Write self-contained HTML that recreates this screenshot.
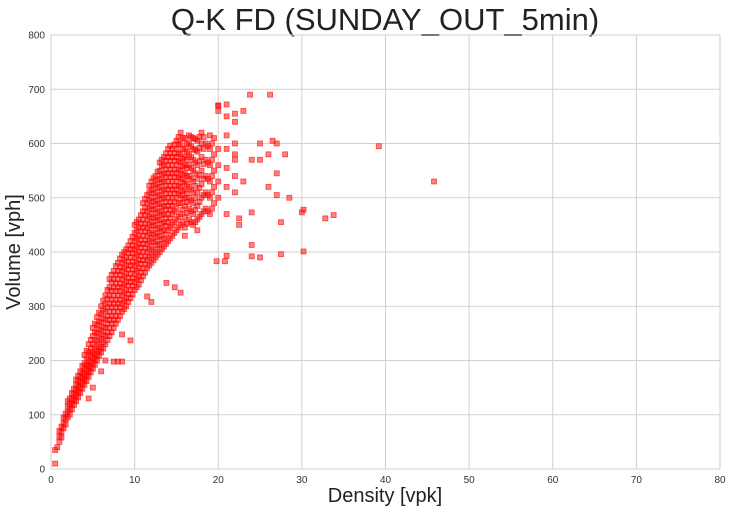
<!DOCTYPE html>
<html><head><meta charset="utf-8"><style>
html,body{margin:0;padding:0;background:#fff;}
svg{display:block;font-family:"Liberation Sans",sans-serif;}
</style></head><body>
<svg id="chart" width="733" height="512">
<text x="385" y="30" text-anchor="middle" font-size="31" fill="#222">Q-K FD (SUNDAY_OUT_5min)</text>
<text x="385" y="502" text-anchor="middle" font-size="20" fill="#222">Density [vpk]</text>
<text x="0" y="0" transform="translate(20,252) rotate(-90)" text-anchor="middle" font-size="20" fill="#222">Volume [vph]</text>
</svg>
<script>
const xTicks=[0,10,20,30,40,50,60,70,80];
const yTicks=[0,100,200,300,400,500,600,700,800];
const columnDensity=[0.5,1,1.5,2,2.5,3,3.5,4,4.5,5,5.5,6,6.5,7,7.5,8,8.5,9,9.5,10,10.5,11,11.5,12,12.5,13,13.5,14,14.5,15,15.5,16,16.5,17,17.5,18,18.5,19,19.5,20,21,22];
const columnVolumes=[
[10,35],[50,60,70],[75,85,95],[95,105,115,125],[110,120,130,140],[125,135,145,155,165],
[140,150,160,170,180],[155,165,175,185,195,210],[170,180,190,200,215,230],[185,195,205,215,230,245,260],
[200,210,220,235,250,265,280],[215,225,240,255,270,285,300],[230,245,260,275,290,305,320],
[245,260,275,290,305,320,335,350],[260,275,290,305,320,335,350,365],[275,290,305,320,335,350,365,380],
[290,305,320,335,350,365,380,395],[300,315,330,345,360,375,390,405],[315,330,345,360,375,390,405,420],
[330,345,360,375,390,405,420,435,450],[340,355,370,385,400,415,430,445,460],
[355,370,385,400,415,430,445,460,475,490],[370,385,400,415,430,445,460,475,490,505],
[380,395,410,425,440,455,470,485,500,515,530],[390,405,420,435,450,465,480,495,510,525,540],
[400,415,430,445,460,475,490,505,520,535,550,565],[410,425,440,455,470,485,500,515,530,545,560,575],
[420,440,455,470,485,500,515,530,545,560,575,590],[430,450,470,485,500,515,530,545,560,575,590],
[440,460,480,500,515,530,545,560,575,590,605],[450,470,490,505,520,535,550,565,580,600,620],
[445,465,485,500,515,530,545,560,575,590,610],[460,480,500,520,540,560,580,600,615],
[450,470,490,510,530,550,570,590,610],[460,485,510,535,560,585,605],[470,500,525,550,575,600,620],
[480,510,540,570,600],[470,500,530,560,590,615],[490,520,550,580,610],[500,530,560,590,660,670],
[520,555,590,615,650],[540,570,600,640,580]];
const midDensity=[0.75,1.25,1.75,2.25,2.75,3.25,3.75,4.25,4.75,5.25,5.75,6.25,6.75,7.25,7.75,8.25,8.75,9.25,9.75,10.25,10.75,11.25,11.75,12.25,12.75,13.25,13.75,14.25,14.75,15.25,15.75,16.25,16.75,17.25,17.75,18.25,18.75,19.25];
const midVolumes=[
[40],[58,68,78],[82,92,102],[100,110,120,130],[118,128,138,148],[132,142,152,162,172],
[148,158,168,178,190],[162,172,182,192,204,218],[178,188,198,210,222,238],[192,202,212,224,238,252,268],
[208,218,230,244,258,272,288],[222,234,248,262,278,294,310],[238,252,268,282,298,314,330],
[252,268,282,298,312,328,344,358],[268,282,298,312,328,342,358,374],[282,298,312,328,342,358,372,388],
[295,310,325,340,355,370,385,400],[308,322,338,352,368,382,398,412],[322,338,352,368,382,398,412,428],
[335,350,365,380,395,410,425,440,455],[348,362,378,392,408,422,438,452,468],
[362,378,392,408,422,438,452,468,482,498],[375,390,405,420,435,450,465,480,495,510,522],
[385,400,418,432,448,462,478,492,508,522,536],[395,412,428,442,458,472,488,502,518,532,548],
[405,422,438,452,468,482,498,512,528,542,558,570],[415,432,448,462,478,492,508,522,538,552,568,582],
[425,445,462,478,492,508,522,538,552,568,582,596],[435,455,475,492,508,522,538,552,568,582,598],
[445,465,490,508,522,538,552,568,582,598,612],[455,478,498,512,528,542,558,572,590,610],
[452,472,492,508,525,540,555,570,585,600],[455,475,495,515,535,555,575,595,612],
[455,478,500,522,545,565,588,608],[465,492,518,542,568,592,612],[475,505,535,562,590,612],
[475,505,535,565,595],[480,510,540,570,600]];
const outlierDensity=[39.2,45.8,33.8,32.8,30.2,30,30.2,27.5,27.5,24,25,24,21,20.8,19.8,22.5,22.5,24,15.5,14.8,13.8,12,11.5,8.5,8,7.5,9.5,8.5,5,4.5,6,6.5,23.8,26.2,20,21,22,23,25,26.5,27,26,28,25,24,27,26,28.5,27,23,22,17.5,16,21];
const outlierVolume=[595,530,468,462,478,473,401,396,455,392,390,413,393,383,383,450,462,473,325,335,343,308,318,198,198,198,237,248,150,130,180,200,690,690,670,672,655,660,600,605,600,580,580,570,570,545,520,500,505,530,510,440,430,470];

const L=51,R=720,T=35,B=469;
const sx=v=>L+(v/80)*(R-L), sy=v=>B-(v/800)*(B-T);
const svg=document.getElementById('chart');
const NS='http://www.w3.org/2000/svg';
function mk(tag,attrs){const e=document.createElementNS(NS,tag);for(const k in attrs)e.setAttribute(k,attrs[k]);svg.appendChild(e);return e;}
xTicks.forEach(t=>{
  const g=mk('line',{x1:sx(t),x2:sx(t),y1:T,y2:B,stroke:'#d0d0d0','stroke-width':1});
  
  
  const l=mk('text',{x:sx(t),y:B+14,'text-anchor':'middle','font-size':10,fill:'#333'});l.textContent=t;
  
  
});
yTicks.forEach(t=>{
  const g=mk('line',{x1:L,x2:R,y1:sy(t),y2:sy(t),stroke:'#d0d0d0','stroke-width':1});
  
  
  const l=mk('text',{x:L-6,y:sy(t)+3.5,'text-anchor':'end','font-size':10,fill:'#333'});l.textContent=t;
  
  
});
const frame=mk('rect',{x:L,y:T,width:R-L,height:B-T,fill:'none',stroke:'#cfcfcf','stroke-width':1});


function pt(x,y){
  const p=mk('rect',{x:sx(x)-2.5,y:sy(y)-2.5,width:5,height:5,fill:'rgba(255,0,0,0.5)',stroke:'rgba(255,0,0,0.65)','stroke-width':0.8});
  
  
}
columnDensity.forEach((x,i)=>columnVolumes[i].forEach(y=>pt(x,y)));
midDensity.forEach((x,i)=>midVolumes[i].forEach(y=>pt(x,y)));
outlierDensity.forEach((x,i)=>pt(x,outlierVolume[i]));
</script>
</body></html>
